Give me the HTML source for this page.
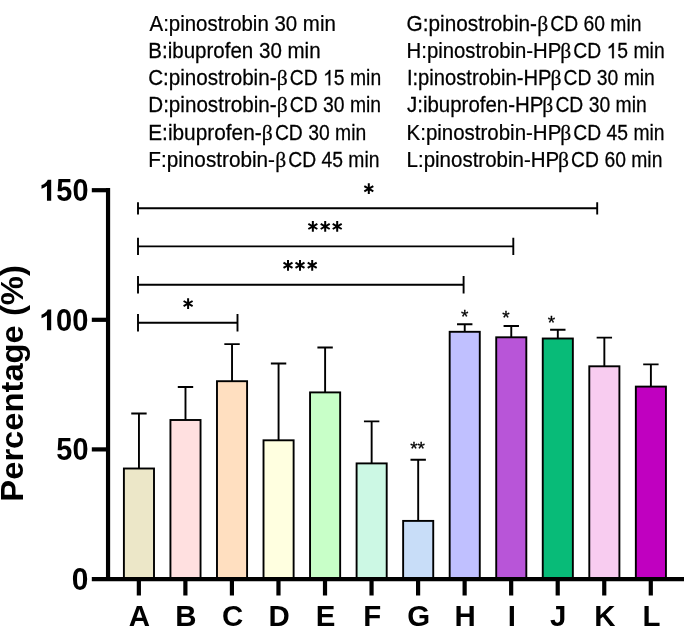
<!DOCTYPE html>
<html><head><meta charset="utf-8"><title>chart</title>
<style>
html,body{margin:0;padding:0;background:#fff;}
body{width:684px;height:627px;overflow:hidden;}
svg{display:block;will-change:transform;}
text{font-family:"Liberation Sans",sans-serif;fill:#000;}
.b{font-weight:bold;}
.s{font-family:"Liberation Serif",serif;}
</style></head><body>
<svg width="684" height="627" viewBox="0 0 684 627">
<rect width="684" height="627" fill="#fff"/>
<g font-size="21.2" stroke="#000" stroke-width="0.25">
<text transform="translate(149.50 31.15) scale(0.9647 1)">A:pinostrobin 30 min</text>
<text transform="translate(148.25 58.25) scale(0.9693 1)">B:ibuprofen 30 min</text>
<text transform="translate(148.13 85.35) scale(0.9738 1)">C:pinostrobin-</text>
<text class="s" transform="translate(276.77 85.35) scale(1.0200 1)">β</text>
<text transform="translate(289.79 85.35) scale(0.9126 1)">CD</text>
<path d="M330.32 85.35H328.61V73.48Q328.00 74.12 327.00 74.76T325.21 75.72V73.92Q326.63 73.19 327.69 72.15T329.19 70.11H330.32Z"/>
<text transform="translate(333.87 85.35) scale(0.9126 1)">5 min</text>
<text transform="translate(148.25 112.45) scale(0.9729 1)">D:pinostrobin-</text>
<text class="s" transform="translate(276.77 112.45) scale(1.0200 1)">β</text>
<text transform="translate(289.79 112.45) scale(0.9126 1)">CD 30 min</text>
<text transform="translate(148.23 139.55) scale(0.9829 1)">E:ibuprofen-</text>
<text class="s" transform="translate(261.87 139.55) scale(1.0200 1)">β</text>
<text transform="translate(274.89 139.55) scale(0.9126 1)">CD 30 min</text>
<text transform="translate(148.24 166.65) scale(0.9783 1)">F:pinostrobin-</text>
<text class="s" transform="translate(275.17 166.65) scale(1.0200 1)">β</text>
<text transform="translate(288.19 166.65) scale(0.9126 1)">CD 45 min</text>
<text transform="translate(406.62 31.15) scale(0.9795 1)">G:pinostrobin-</text>
<text class="s" transform="translate(537.17 31.15) scale(1.0200 1)">β</text>
<text transform="translate(550.19 31.15) scale(0.9126 1)">CD 60 min</text>
<text transform="translate(406.57 58.25) scale(0.9592 1)">H:pinostrobin-HP</text>
<text class="s" transform="translate(560.27 58.25) scale(1.0200 1)">β</text>
<text transform="translate(573.29 58.25) scale(0.9126 1)">CD</text>
<path d="M613.82 58.25H612.11V46.38Q611.50 47.02 610.50 47.66T608.71 48.62V46.82Q610.13 46.09 611.19 45.05T612.69 43.01H613.82Z"/>
<text transform="translate(617.37 58.25) scale(0.9126 1)">5 min</text>
<text transform="translate(406.89 85.35) scale(0.9520 1)">I:pinostrobin-HP</text>
<text class="s" transform="translate(550.47 85.35) scale(1.0200 1)">β</text>
<text transform="translate(563.49 85.35) scale(0.9126 1)">CD 30 min</text>
<text transform="translate(407.01 112.45) scale(0.9653 1)">J:ibuprofen-HP</text>
<text class="s" transform="translate(542.37 112.45) scale(1.0200 1)">β</text>
<text transform="translate(555.39 112.45) scale(0.9126 1)">CD 30 min</text>
<text transform="translate(406.56 139.55) scale(0.9663 1)">K:pinostrobin-HP</text>
<text class="s" transform="translate(560.27 139.55) scale(1.0200 1)">β</text>
<text transform="translate(573.29 139.55) scale(0.9126 1)">CD 45 min</text>
<text transform="translate(406.56 166.65) scale(0.9667 1)">L:pinostrobin-HP</text>
<text class="s" transform="translate(558.07 166.65) scale(1.0200 1)">β</text>
<text transform="translate(571.09 166.65) scale(0.9126 1)">CD 60 min</text>
</g>
<g stroke="#000" stroke-width="1.9">
<path d="M138.95 413.50V468.50M131.25 413.50H146.65" fill="none"/><rect x="123.90" y="468.50" width="30.10" height="110.60" fill="#ECE7C8"/>
<path d="M185.49 387.00V420.00M177.79 387.00H193.19" fill="none"/><rect x="170.44" y="420.00" width="30.10" height="159.10" fill="#FFE0E0"/>
<path d="M232.03 344.10V381.20M224.33 344.10H239.73" fill="none"/><rect x="216.98" y="381.20" width="30.10" height="197.90" fill="#FFDFC0"/>
<path d="M278.57 363.50V440.30M270.87 363.50H286.27" fill="none"/><rect x="263.52" y="440.30" width="30.10" height="138.80" fill="#FFFFE0"/>
<path d="M325.11 347.50V392.40M317.41 347.50H332.81" fill="none"/><rect x="310.06" y="392.40" width="30.10" height="186.70" fill="#C8FFC8"/>
<path d="M371.65 421.40V463.40M363.95 421.40H379.35" fill="none"/><rect x="356.60" y="463.40" width="30.10" height="115.70" fill="#CCF8E4"/>
<path d="M418.19 459.70V520.90M410.49 459.70H425.89" fill="none"/><rect x="403.14" y="520.90" width="30.10" height="58.20" fill="#C8DDF8"/>
<path d="M464.73 324.20V331.80M457.03 324.20H472.43" fill="none"/><rect x="449.68" y="331.80" width="30.10" height="247.30" fill="#C0C0FF"/>
<path d="M511.27 326.00V337.30M503.57 326.00H518.97" fill="none"/><rect x="496.22" y="337.30" width="30.10" height="241.80" fill="#B855D8"/>
<path d="M557.81 329.70V338.50M550.11 329.70H565.51" fill="none"/><rect x="542.76" y="338.50" width="30.10" height="240.60" fill="#08BB78"/>
<path d="M604.35 337.60V366.30M596.65 337.60H612.05" fill="none"/><rect x="589.30" y="366.30" width="30.10" height="212.80" fill="#F8CCF0"/>
<path d="M650.89 364.40V386.60M643.19 364.40H658.59" fill="none"/><rect x="635.84" y="386.60" width="30.10" height="192.50" fill="#C000C0"/>
</g>
<g stroke="#000" stroke-width="1.9" fill="none">
<path d="M138.0 202.2V214.4M597.2 202.2V214.4M138.0 208.3H597.2"/>
<path d="M138.0 237.7V255.1M513.3 237.7V255.1M138.0 246.4H513.3"/>
<path d="M138.0 276.0V293.4M463.6 276.0V293.4M138.0 284.7H463.6"/>
<path d="M138.0 314.0V331.4M237.5 314.0V331.4M138.0 322.7H237.5"/>
</g>
<g stroke="#000" stroke-width="4.2" fill="none">
<path d="M108.05 188.10V579.10"/>
<path d="M91.8 579.10H684"/>
<path d="M91.8 190.20H108"/>
<path d="M91.8 319.80H108"/>
<path d="M91.8 449.40H108"/>
<path d="M138.85 579.1V595.5"/><path d="M185.39 579.1V595.5"/><path d="M231.93 579.1V595.5"/><path d="M278.47 579.1V595.5"/><path d="M325.01 579.1V595.5"/><path d="M371.55 579.1V595.5"/><path d="M418.09 579.1V595.5"/><path d="M464.63 579.1V595.5"/><path d="M511.17 579.1V595.5"/><path d="M557.71 579.1V595.5"/><path d="M604.25 579.1V595.5"/><path d="M650.79 579.1V595.5"/>
</g>
<g class="b" font-size="30.9">
<path d="M51.20 200.70H46.97V185.66Q44.65 187.71 41.50 188.69V185.07Q43.16 184.56 45.10 183.13T47.77 179.80H51.20Z"/>
<text transform="translate(56.35 201.05) scale(0.9346 1)">50</text>
<path d="M51.20 330.30H46.97V315.26Q44.65 317.31 41.50 318.29V314.67Q43.16 314.16 45.10 312.73T47.77 309.40H51.20Z"/>
<text transform="translate(56.09 330.65) scale(0.9424 1)">00</text>
<text transform="translate(56.35 460.25) scale(0.9346 1)">50</text>
<text transform="translate(71.86 589.95) scale(0.9688 1)">0</text>
</g>
<g class="b" font-size="30.2">
<text transform="translate(128.82 626.30) scale(0.9750 1)">A</text>
<text transform="translate(175.36 626.30) scale(0.9750 1)">B</text>
<text transform="translate(221.90 626.30) scale(0.9750 1)">C</text>
<text transform="translate(268.44 626.30) scale(0.9750 1)">D</text>
<text transform="translate(315.79 626.30) scale(0.9750 1)">E</text>
<text transform="translate(363.16 626.30) scale(0.9750 1)">F</text>
<text transform="translate(407.24 626.30) scale(0.9750 1)">G</text>
<text transform="translate(454.60 626.30) scale(0.9750 1)">H</text>
<text transform="translate(507.68 626.30) scale(0.9750 1)">I</text>
<text transform="translate(550.12 626.30) scale(0.9750 1)">J</text>
<text transform="translate(594.22 626.30) scale(0.9750 1)">K</text>
<text transform="translate(642.40 626.30) scale(0.9750 1)">L</text>
</g>
<text class="b" font-size="32.0" transform="translate(23.3 501.65) rotate(-90) scale(1.0231 1)">Percentage (%)</text>
<g stroke="#000" stroke-width="2.0" fill="none">
<path d="M368.80 183.30V194.10M364.30 186.10L373.30 191.30M364.30 191.30L373.30 186.10"/>
<path d="M312.85 221.00V231.80M308.35 223.80L317.35 229.00M308.35 229.00L317.35 223.80"/><path d="M325.20 221.00V231.80M320.70 223.80L329.70 229.00M320.70 229.00L329.70 223.80"/><path d="M337.20 221.00V231.80M332.70 223.80L341.70 229.00M332.70 229.00L341.70 223.80"/>
<path d="M288.00 259.90V270.70M283.50 262.70L292.50 267.90M283.50 267.90L292.50 262.70"/><path d="M300.00 259.90V270.70M295.50 262.70L304.50 267.90M295.50 267.90L304.50 262.70"/><path d="M312.20 259.90V270.70M307.70 262.70L316.70 267.90M307.70 267.90L316.70 262.70"/>
<path d="M188.10 298.20V309.00M183.60 301.00L192.60 306.20M183.60 306.20L192.60 301.00"/>
</g>
<g font-size="19.0" stroke="#000" stroke-width="0.3">
<text transform="translate(461.00 323.44) scale(1.0000 1)">*</text>
<text transform="translate(502.20 324.24) scale(1.0000 1)">*</text>
<text transform="translate(547.80 328.64) scale(1.0000 1)">*</text>
<text transform="translate(410.20 455.44) scale(1.0000 1)">**</text>
</g>
</svg>
</body></html>
